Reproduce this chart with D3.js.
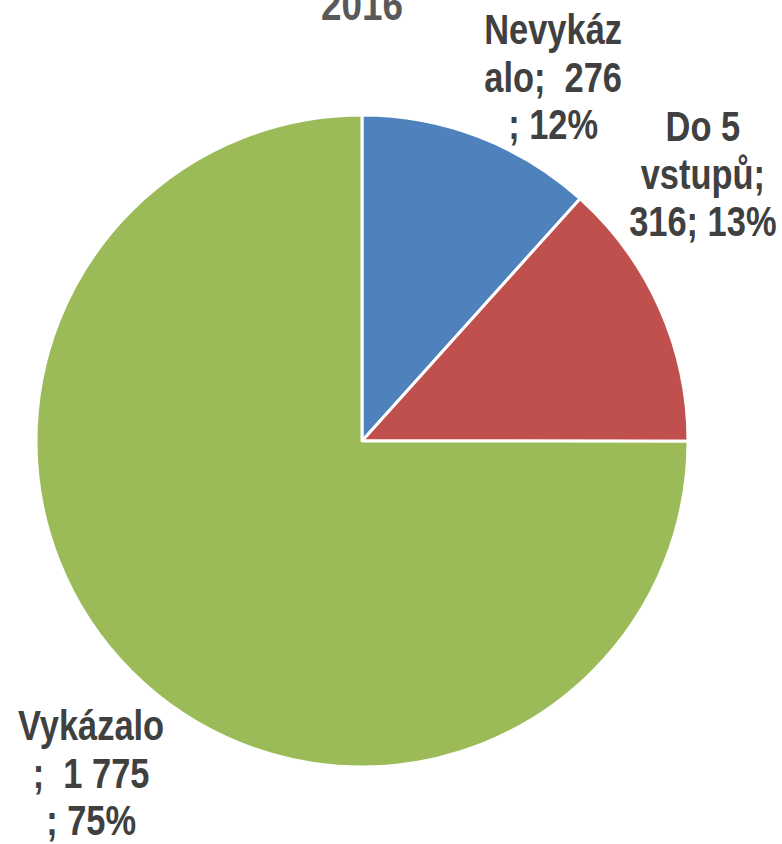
<!DOCTYPE html>
<html>
<head>
<meta charset="utf-8">
<script src="https://cdn.jsdelivr.net/npm/d3@7.9.0/dist/d3.min.js"></script>
<style>
  html, body { margin: 0; padding: 0; background: #fff; }
  svg { display: block; }
  text { font-family: "Liberation Sans Narrow", "Arial Narrow", "Liberation Sans", sans-serif; font-weight: bold; white-space: pre; }
</style>
</head>
<body>
<svg id="chart" width="782" height="844"></svg>
<script>
const title = '2016';
const categories = ['Nevykázalo', 'Do 5 vstupů', 'Vykázalo'];
const values = [276, 316, 1775];
const percents = ['12%', '13%', '75%'];
const labelLines = [
  ['Nevykáz', 'alo;  276', '; 12%'],
  ['Do 5', 'vstupů;', '316; 13%'],
  ['Vykázalo', ';  1 775', '; 75%']
];
const colors = ['#4F81BD', '#C0504D', '#9BBB59'];

const width = 782, height = 844;
const cx = 362, cy = 441, radius = 326;
const fontSize = 42, lineHeight = 47.5, narrow = 0.82;

const svg = d3.select('#chart');

svg.append('text')
  .attr('transform', `translate(${cx},20) scale(${narrow},1)`)
  .attr('text-anchor', 'middle')
  .attr('fill', '#595959')
  .attr('font-size', 45)
  .text(title);

const pie = d3.pie().sort(null).value(d => d);
const arcs = pie(values);

const arc = d3.arc().innerRadius(0).outerRadius(radius);

const g = svg.append('g').attr('transform', `translate(${cx},${cy})`);

g.selectAll('path')
  .data(arcs)
  .join('path')
  .attr('d', arc)
  .attr('fill', (d, i) => colors[i])
  .attr('stroke', '#fff')
  .attr('stroke-width', 3)
  .attr('stroke-linejoin', 'round');

// outside labels, placed like Excel's best fit (middle line baseline)
const labelRadius = [398, 424, 440];
const labelAngle = [28.7, 53.5, 218].map(a => a * Math.PI / 180);

arcs.forEach((d, i) => {
  const a = labelAngle[i];
  const x = Math.sin(a) * labelRadius[i];
  const y = -Math.cos(a) * labelRadius[i];
  const t = g.append('text')
    .attr('transform', `translate(${x},${y}) scale(${narrow},1)`)
    .attr('text-anchor', 'middle')
    .attr('fill', '#404040')
    .attr('font-size', fontSize);
  labelLines[i].forEach((line, j) => {
    t.append('tspan')
      .attr('x', 0)
      .attr('y', (j - 1) * lineHeight)
      .text(line);
  });
});
</script>
</body>
</html>
